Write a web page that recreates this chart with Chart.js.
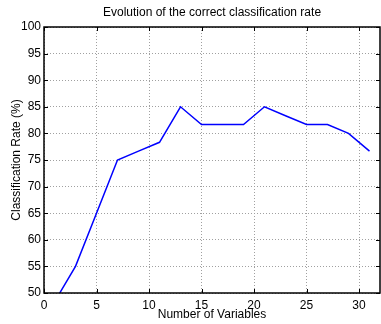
<!DOCTYPE html>
<html><head><meta charset="utf-8">
<script src="https://cdn.jsdelivr.net/npm/chart.js@4/dist/chart.umd.min.js"></script>
<style>html,body{margin:0;padding:0;background:#fff}#wrap{width:381px;height:324px}</style>
</head><body><div id="wrap"><canvas id="c" width="381" height="324"></canvas></div>
<script>
const numVariables = [1,3,5,7,9,11,13,15,17,19,21,23,25,27,29,31];
const classificationRate = [48.33,55,65,75,76.67,78.33,85,81.67,81.67,81.67,85,83.33,81.67,81.67,80,76.67];
const xTicks = [0,5,10,15,20,25,30];
const yTicks = [50,55,60,65,70,75,80,85,90,95,100];
const titleText = 'Evolution of the correct classification rate';
const xLabel = 'Number of Variables';
const yLabel = 'Classification Rate (%)';

const FONT = '"Liberation Sans", Arial, Helvetica, sans-serif';

const boxPlugin = {
  id: 'box',
  afterDraw(chart) {
    const ctx = chart.ctx, a = chart.chartArea;
    const xs = chart.scales.x, ys = chart.scales.y;
    ctx.save();
    ctx.strokeStyle = '#000';
    ctx.lineWidth = 1.5;
    ctx.strokeRect(a.left, a.top, a.right - a.left, a.bottom - a.top);
    ctx.lineWidth = 1;
    const L = 4;
    ctx.beginPath();
    xTicks.forEach(v => {
      const px = Math.round(xs.getPixelForValue(v)) + 0.5;
      ctx.moveTo(px, a.bottom); ctx.lineTo(px, a.bottom - L);
      ctx.moveTo(px, a.top); ctx.lineTo(px, a.top + L);
    });
    yTicks.forEach(v => {
      const py = Math.round(ys.getPixelForValue(v)) + 0.5;
      ctx.moveTo(a.left, py); ctx.lineTo(a.left + L, py);
      ctx.moveTo(a.right, py); ctx.lineTo(a.right - L, py);
    });
    ctx.stroke();
    ctx.fillStyle = '#000';
    ctx.font = '12px ' + FONT;
    ctx.textAlign = 'center';
    ctx.textBaseline = 'middle';
    ctx.fillText(titleText, (a.left + a.right) / 2, 13);
    ctx.restore();
  }
};

new Chart(document.getElementById('c'), {
  type: 'scatter',
  data: {
    datasets: [{
      data: numVariables.map((x, i) => ({x: x, y: classificationRate[i]})),
      showLine: true,
      borderColor: '#0000ff',
      backgroundColor: '#0000ff',
      borderWidth: 1.5,
      pointRadius: 0,
      tension: 0
    }]
  },
  options: {
    responsive: false,
    animation: false,
    devicePixelRatio: 1,
    layout: {padding: {top: 27, right: 1, left: 0, bottom: 0}},
    plugins: {legend: {display: false}, tooltip: {enabled: false}, title: {display: false}},
    scales: {
      x: {
        type: 'linear', min: 0, max: 32,
        afterBuildTicks: s => { s.ticks = xTicks.map(v => ({value: v})); },
        afterFit: s => { s.height = 31; },
        grid: {color: '#a0a0a0', lineWidth: 1, drawTicks: false},
        border: {display: false, dash: [1, 2]},
        ticks: {color: '#000', font: {family: FONT, size: 12}, padding: 5, maxRotation: 0},
        title: {display: true, text: xLabel, color: '#000', font: {family: FONT, size: 12}, padding: {top: 0, bottom: 2}}
      },
      y: {
        type: 'linear', min: 50, max: 100,
        afterBuildTicks: s => { s.ticks = yTicks.map(v => ({value: v})); },
        afterFit: s => { s.width = 44; },
        grid: {color: '#a0a0a0', lineWidth: 1, drawTicks: false},
        border: {display: false, dash: [1, 2]},
        ticks: {color: '#000', font: {family: FONT, size: 12}, padding: 3},
        title: {display: true, text: yLabel, color: '#000', font: {family: FONT, size: 12}, padding: {top: 9, bottom: 0}}
      }
    }
  },
  plugins: [boxPlugin]
});
</script></body></html>
